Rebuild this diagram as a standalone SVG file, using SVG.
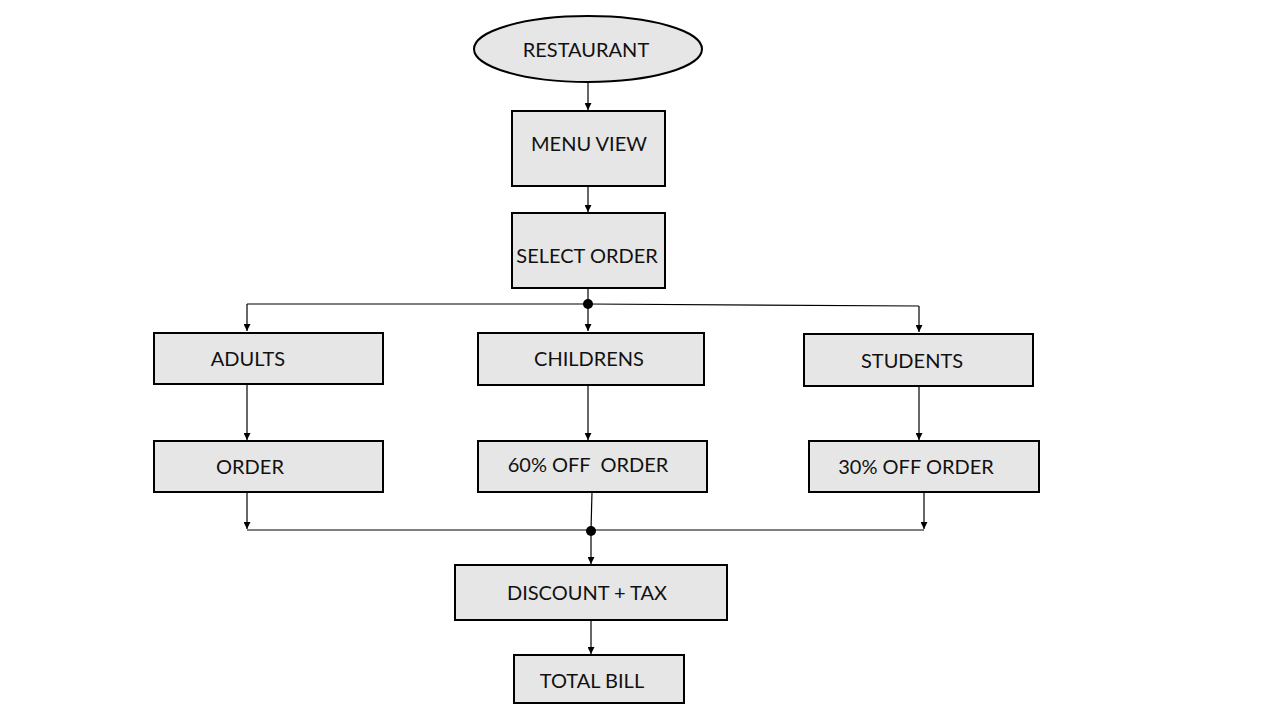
<svg xmlns="http://www.w3.org/2000/svg" width="1280" height="720" viewBox="0 0 1280 720">
<style>
.n{fill:#e7e6e6;stroke:#000;stroke-width:2}
.t{font-family:Lato,"Open Sans","Liberation Sans",sans-serif;font-size:20px;fill:#111;text-anchor:middle;dominant-baseline:central}
.c{fill:none;stroke:#000;stroke-width:1.2}
</style>
<defs>
<marker id="a" viewBox="0 0 10 10" refX="10" refY="5" markerWidth="7" markerHeight="7" markerUnits="userSpaceOnUse" orient="auto"><path d="M0,0L10,5L0,10z" fill="#000"/></marker>
</defs>
<rect width="1280" height="720" fill="#fff"/>
<g id="connectors">
<path class="c" d="M588,83V110" marker-end="url(#a)"/>
<path class="c" d="M588,186V212" marker-end="url(#a)"/>
<path class="c" d="M588,288V304"/>
<path class="c" d="M247,304H588L919,306"/>
<path class="c" d="M247,304V331" marker-end="url(#a)"/>
<path class="c" d="M588,304V331" marker-end="url(#a)"/>
<path class="c" d="M919,306V332" marker-end="url(#a)"/>
<path class="c" d="M247,384V440" marker-end="url(#a)"/>
<path class="c" d="M588,385V440" marker-end="url(#a)"/>
<path class="c" d="M919,386V440" marker-end="url(#a)"/>
<path class="c" d="M247,492V529" marker-end="url(#a)"/>
<path class="c" d="M924,492V529" marker-end="url(#a)"/>
<path class="c" d="M247,530H924"/>
<path class="c" d="M592,492L591,530"/>
<path class="c" d="M591,530V564" marker-end="url(#a)"/>
<path class="c" d="M591,620V654" marker-end="url(#a)"/>
<circle cx="588" cy="304" r="5" fill="#000"/>
<circle cx="591" cy="531" r="5" fill="#000"/>
</g>
<g id="restaurant"><ellipse class="n" cx="588" cy="49" rx="114" ry="33"/><text class="t" x="586" y="49">RESTAURANT</text></g>
<g id="menu-view"><rect class="n" x="512" y="111" width="153" height="75"/><text class="t" x="589" y="143">MENU VIEW</text></g>
<g id="select-order"><rect class="n" x="512" y="213" width="153" height="75"/><text class="t" x="587" y="255">SELECT ORDER</text></g>
<g id="adults"><rect class="n" x="154" y="333" width="229" height="51"/><text class="t" x="248" y="358">ADULTS</text></g>
<g id="childrens"><rect class="n" x="478" y="333" width="226" height="52"/><text class="t" x="589" y="358">CHILDRENS</text></g>
<g id="students"><rect class="n" x="804" y="334" width="229" height="52"/><text class="t" x="912" y="360">STUDENTS</text></g>
<g id="order"><rect class="n" x="154" y="441" width="229" height="51"/><text class="t" x="250" y="466">ORDER</text></g>
<g id="children-order"><rect class="n" x="478" y="441" width="229" height="51"/><text class="t" x="588" y="464" xml:space="preserve">60% OFF  ORDER</text></g>
<g id="students-order"><rect class="n" x="809" y="441" width="230" height="51"/><text class="t" x="916" y="466">30% OFF ORDER</text></g>
<g id="discount-tax"><rect class="n" x="455" y="565" width="272" height="55"/><text class="t" x="587" y="592">DISCOUNT + TAX</text></g>
<g id="total-bill"><rect class="n" x="514" y="655" width="170" height="48"/><text class="t" x="592" y="680">TOTAL BILL</text></g>
</svg>
